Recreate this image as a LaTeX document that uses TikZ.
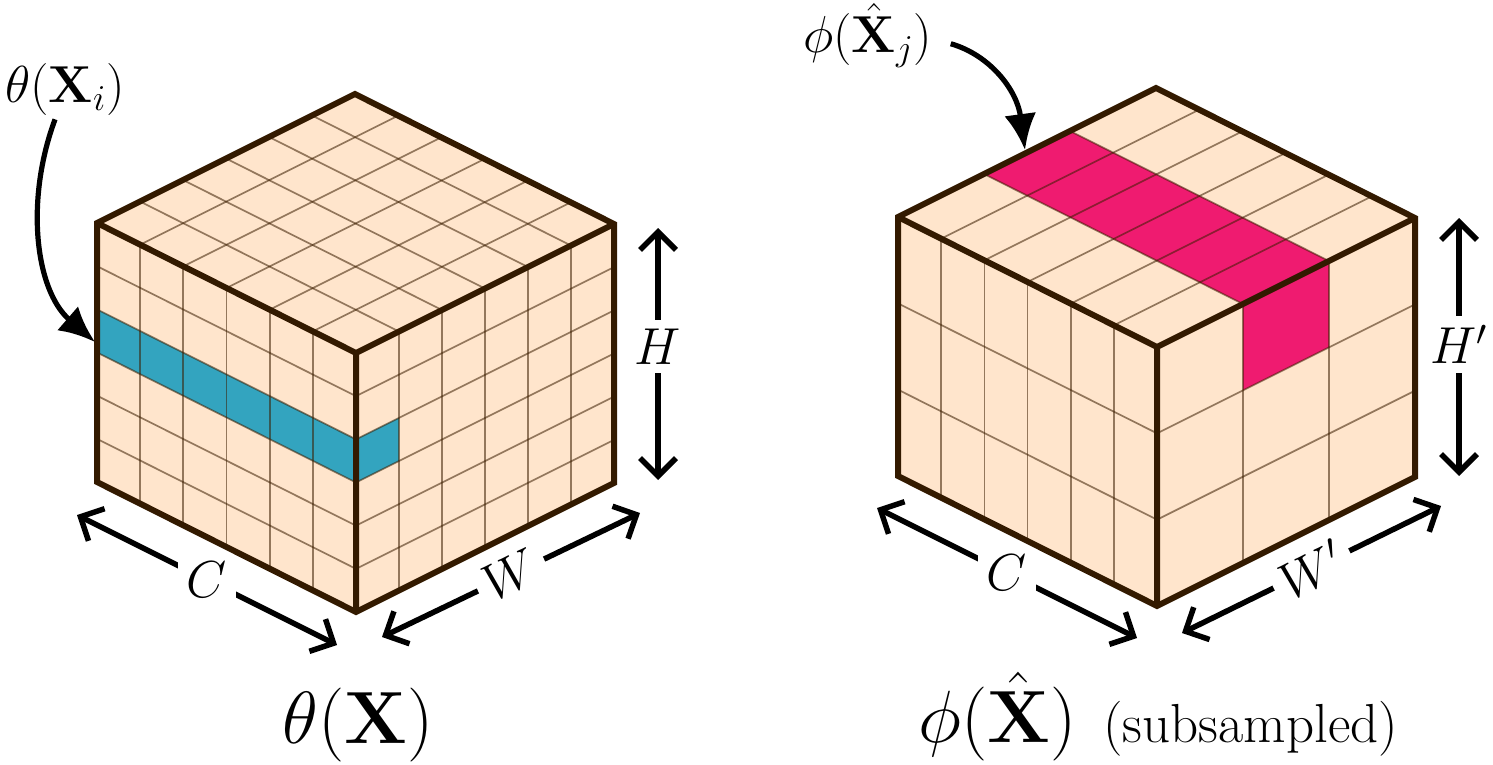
\RequirePackage{fix-cm}
\documentclass[tikz,border=0pt]{standalone}
\usetikzlibrary{arrows.meta,calc}
\definecolor{peach}{RGB}{255,229,204}
\definecolor{cblue}{RGB}{51,164,191}
\definecolor{cpink}{RGB}{239,27,112}
\definecolor{edgec}{RGB}{51,26,0}
\definecolor{gridc}{RGB}{60,30,0}
\tikzset{
  gridline/.style={draw=gridc, draw opacity=0.55, line width=0.85pt},
  outline/.style={draw=edgec, line width=3pt, line join=miter},
  dimarrow/.style={line width=2.75pt, {Straight Barb[length=9pt,width=18pt]}-{Straight Barb[length=9pt,width=18pt]}},
  dimlabel/.style={fill=white, inner sep=4.5pt, font=\fontsize{26}{31}\selectfont},
  pointer/.style={line width=2.6pt, -{Latex[length=18pt,width=16pt]}},
  smalltext/.style={inner sep=0pt, font=\fontsize{26}{31}\selectfont},
  subtext/.style={inner sep=0pt, font=\fontsize{27.5}{33}\selectfont},
  bigtext/.style={inner sep=0pt, font=\fontsize{37}{44}\selectfont},
}
\begin{document}
\begin{tikzpicture}[x=0.5pt,y=-0.5pt]
\useasboundingbox (0,0) rectangle (1493,765);

% ---------- dimension arrows (drawn first, cubes on top) ----------
\coordinate (lc1) at (77,515);   \coordinate (lc2) at (337,645);
\coordinate (lw1) at (382,637);  \coordinate (lw2) at (640,513);
\coordinate (lh1) at (658,228);  \coordinate (lh2) at (658,480);
\coordinate (rc1) at (877,508);  \coordinate (rc2) at (1137,638);
\coordinate (rw1) at (1182,633); \coordinate (rw2) at (1441,506);
\coordinate (rh1) at (1459,218); \coordinate (rh2) at (1459,476);

\draw[dimarrow] (lc1) -- node[dimlabel] (lcl) {$C$} (lc2);
\draw[dimarrow] (lw1) -- node[dimlabel, sloped] (lwl) {$W$} (lw2);
\draw[dimarrow] (lh1) -- node[dimlabel, pos=0.47] (lhl) {$H$} (lh2);
\draw[dimarrow] (rc1) -- node[dimlabel] (rcl) {$C$} (rc2);
\draw[dimarrow] (rw1) -- node[dimlabel, sloped] (rwl) {$W'$} (rw2);
\draw[dimarrow] (rh1) -- node[dimlabel, pos=0.49] (rhl) {$H'$} (rh2);

% ---------- left cube ----------
\begin{scope}[shift={(356,353)}, x={(-129.5pt,65pt)}, y={(129pt,64.5pt)}, z={(0pt,-129.5pt)}]
  \fill[peach] (1,0,0)--(1,0,1)--(0,0,1)--(0,1,1)--(0,1,0)--(1,1,0)--cycle;
  \fill[cblue] (0,0,{2/6})--(1,0,{2/6})--(1,0,{3/6})--(0,0,{3/6})--cycle;
  \fill[cblue] (0,0,{2/6})--(0,{1/6},{2/6})--(0,{1/6},{3/6})--(0,0,{3/6})--cycle;
  \foreach \i in {1,...,5}{
    \draw[gridline] ({\i/6},0,0) -- ({\i/6},0,1);
    \draw[gridline] (0,0,{\i/6}) -- (1,0,{\i/6});
    \draw[gridline] (0,{\i/6},0) -- (0,{\i/6},1);
    \draw[gridline] (0,0,{\i/6}) -- (0,1,{\i/6});
    \draw[gridline] ({\i/6},0,0) -- ({\i/6},1,0);
    \draw[gridline] (0,{\i/6},0) -- (1,{\i/6},0);
  }
  \draw[outline] (1,0,0)--(1,0,1)--(0,0,1)--(0,1,1)--(0,1,0)--(1,1,0)--cycle;
  \draw[outline] (1,0,0)--(0,0,0)--(0,1,0) (0,0,0)--(0,0,1);
\end{scope}

% ---------- right cube ----------
\begin{scope}[shift={(1157,347)}, x={(-129.5pt,65pt)}, y={(129pt,64.5pt)}, z={(0pt,-129.5pt)}]
  \fill[peach] (1,0,0)--(1,0,1)--(0,0,1)--(0,1,1)--(0,1,0)--(1,1,0)--cycle;
  \fill[cpink] (0,{1/3},0)--(1,{1/3},0)--(1,{2/3},0)--(0,{2/3},0)--cycle;
  \fill[cpink] (0,{1/3},0)--(0,{2/3},0)--(0,{2/3},{1/3})--(0,{1/3},{1/3})--cycle;
  \foreach \i in {1,...,5}{
    \draw[gridline] ({\i/6},0,0) -- ({\i/6},0,1);
    \draw[gridline] ({\i/6},0,0) -- ({\i/6},1,0);
  }
  \foreach \j in {1,2}{
    \draw[gridline] (0,0,{\j/3}) -- (1,0,{\j/3});
    \draw[gridline] (0,{\j/3},0) -- (0,{\j/3},1);
    \draw[gridline] (0,0,{\j/3}) -- (0,1,{\j/3});
    \draw[gridline] (0,{\j/3},0) -- (1,{\j/3},0);
  }
  \draw[outline] (1,0,0)--(1,0,1)--(0,0,1)--(0,1,1)--(0,1,0)--(1,1,0)--cycle;
  \draw[outline] (1,0,0)--(0,0,0)--(0,1,0) (0,0,0)--(0,0,1);
\end{scope}

% ---------- pointer labels ----------
\node[smalltext, anchor=base west] (lt) at (5,103) {$\theta(\mathbf{X}_i)$};
\coordinate (lttgt) at (95,342);
\draw[pointer] ($(lt.south)+(-10,3)$) .. controls (25,200) and (35,290) .. (lttgt);

\node[smalltext, anchor=base west] (rt) at (803,53) {$\phi(\hat{\mathbf{X}}_j)$};
\coordinate (rttgt) at (1025,150);
\draw[pointer] ($(rt.east)+(18,8)$) .. controls (990,55) and (1017,90) .. (rttgt);

% ---------- captions ----------
\node[bigtext, anchor=base west] (lb) at (282,743) {$\theta(\mathbf{X})$};
\node[bigtext, anchor=base west] (rb) at (918,742) {$\phi(\hat{\mathbf{X}})$};
\node[subtext, anchor=base west] (sub) at (1103,742) {(subsampled)};
\end{tikzpicture}
\end{document}
